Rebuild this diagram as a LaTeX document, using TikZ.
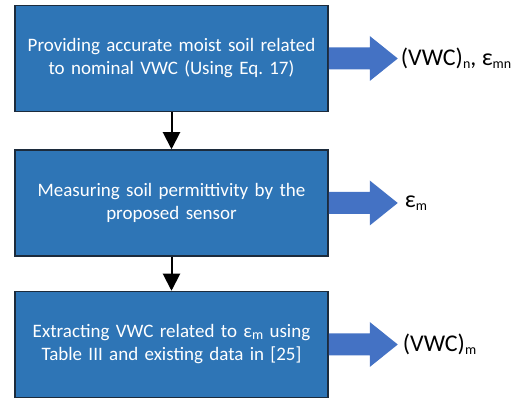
\documentclass[tikz,border=0pt]{standalone}
\usepackage{fontspec}
\setmainfont{Carlito}
\usetikzlibrary{positioning,arrows.meta}
\definecolor{boxblue}{HTML}{2E75B6}
\definecolor{boxline}{HTML}{1C2B3C}
\definecolor{arrowblue}{HTML}{4472C4}
\newcommand{\lowsub}[1]{\raisebox{-0.1em}{\fontsize{14}{14}\selectfont #1}}

\begin{document}
\begin{tikzpicture}[x=1pt,y=1pt,
  stepbox/.style={draw=boxline, line width=1.5pt, fill=boxblue, text=white,
    minimum width=313pt, minimum height=106pt, text width=300pt, align=center,
    inner sep=0pt, font=\fontsize{19}{23}\selectfont},
  outlabel/.style={inner sep=0pt, anchor=west, font=\fontsize{24}{28}\selectfont},
  flowline/.style={line width=2pt, -{Triangle[width=17pt,length=17pt]}}]
\useasboundingbox (0,0) rectangle (531,399);
\node[stepbox] (provide) at (171.5,340.5) {Providing accurate moist soil related\\to nominal VWC (Using Eq.\ 17)};
\node[stepbox, below=37pt of provide] (measure) {Measuring soil permittivity by the\\proposed sensor};
\node[stepbox, below=34pt of measure] (extract) {Extracting VWC related to ε\lowsub{m} using\\Table III and existing data in [25]};
% vertical flow
\draw[flowline] (provide.south) -- (measure.north);
\draw[flowline] (measure.south) -- (extract.north);
% block arrows
\foreach \b in {provide,measure,extract}
  \fill[arrowblue] (\b.east) ++(0,11) -- ++(41,0) -- ++(0,11.5) -- ++(28,-22.5)
    -- ++(-28,-22.5) -- ++(0,11.5) -- ++(-41,0) -- cycle;
\node[outlabel, right=72pt of provide] (nominal) {(VWC)\lowsub{n}, ε\lowsub{mn}};
\node[outlabel, right=76pt of measure] (permit) {ε\lowsub{m}};
\node[outlabel, right=74pt of extract] (measured) {(VWC)\lowsub{m}};
\end{tikzpicture}
\end{document}
